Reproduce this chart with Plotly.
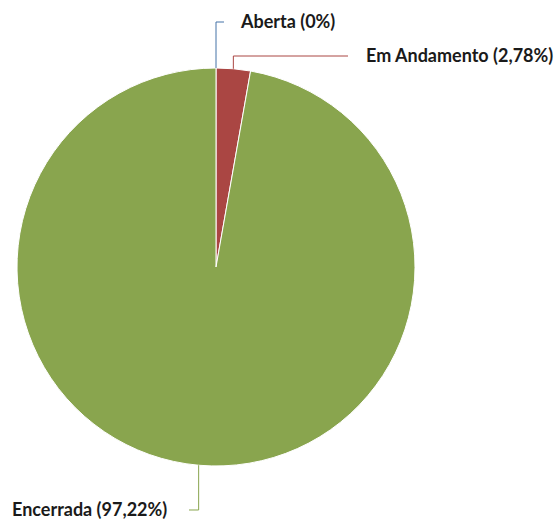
import math
import plotly.graph_objects as go

labels = ["Aberta", "Em Andamento", "Encerrada"]
values = [0.0, 2.78, 97.22]
value_text = ["0%", "2,78%", "97,22%"]
colors = ["#4572A7", "#AA4643", "#89A54E"]

W, H = 558, 522
cx, cy, r = 216, 267, 199

fig = go.Figure(go.Pie(
    labels=labels, values=values, sort=False, direction="clockwise", rotation=0,
    marker=dict(colors=colors, line=dict(color="white", width=1)),
    textinfo="none", hoverinfo="label+percent", showlegend=False,
    domain=dict(x=[(cx - r) / W, (cx + r) / W], y=[1 - (cy + r) / H, 1 - (cy - r) / H]),
))

# label layout (pixel positions): elbow y, elbow end x, text anchor x, side
label_layout = [
    dict(ey=22, ex=224, tx=238, side="right"),
    dict(ey=56, ex=348, tx=364, side="right"),
    dict(ey=510, ex=189, tx=169, side="left"),
]

total = sum(values)
cum = 0.0
shapes, annotations = [], []
for lab, v, vt, col, lay in zip(labels, values, value_text, colors, label_layout):
    mid = (cum + v / 2) / total * 2 * math.pi
    cum += v
    px = cx + r * math.sin(mid)
    py = cy - r * math.cos(mid)
    pts = [(px, py), (px, lay["ey"]), (lay["ex"], lay["ey"])]
    path = "M " + " L ".join(f"{x / W:.5f},{1 - y / H:.5f}" for x, y in pts)
    shapes.append(dict(type="path", path=path, xref="paper", yref="paper",
                       line=dict(color=col, width=1)))
    annotations.append(dict(
        x=lay["tx"] / W, y=1 - (lay["ey"] - 1) / H, xref="paper", yref="paper",
        text=f"{lab} ({vt})", showarrow=False,
        xanchor="left" if lay["side"] == "right" else "right", yanchor="middle",
        font=dict(family="Lato", size=18, color="#1a1a1a", weight="bold"),
    ))

fig.update_layout(
    width=W, height=H, margin=dict(l=0, r=0, t=0, b=0),
    paper_bgcolor="white", plot_bgcolor="white",
    shapes=shapes, annotations=annotations,
)
fig.write_html("out.html", config={"displayModeBar": False},
               post_script="document.body.style.margin='0';document.body.style.overflow='hidden';")
